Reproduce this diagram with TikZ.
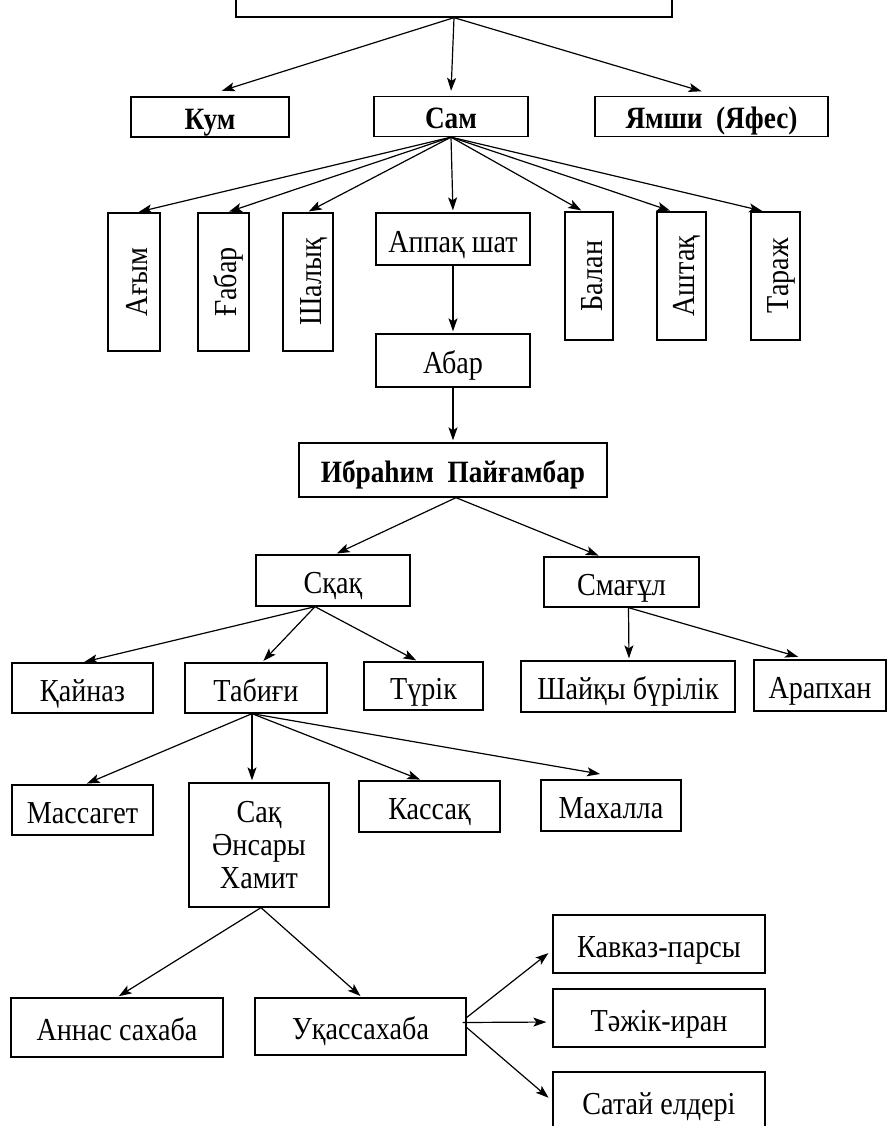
\documentclass[tikz,border=0pt]{standalone}
\usepackage{fontspec}
\setmainfont{Liberation Serif}[FakeStretch=0.88]
\usetikzlibrary{positioning,arrows.meta}

\begin{document}
\begin{tikzpicture}[
    x=1pt, y=-1pt,
    >={Stealth[length=13pt,width=9pt,inset=3pt]},
    clan/.style={
        draw,
        line width=1.3pt,
        inner sep=0pt,
        align=center,
        font=\fontsize{32}{33}\selectfont,
        text height=26pt,
        text depth=0pt,
        minimum height=51pt
    },
    headclan/.style={
        clan,
        font=\fontsize{31}{33}\selectfont\bfseries,
        text height=25pt,
        text depth=0pt,
        minimum height=40pt
    },
    vclan/.style={
        clan,
        rotate=90,
        minimum height=50pt
    },
    arrow/.style={->, line width=1.2pt, shorten >=2pt}
]

\useasboundingbox (0,0) rectangle (887,1126);
\clip (0,0) rectangle (887,1126);

\node[clan, minimum width=436pt, minimum height=58pt] (top) at (454,-12) {};

% SONS
\node[headclan, minimum width=158pt] (kum) at (210,117) {Кум};
\node[headclan, minimum width=154pt] (sam) at (451,116.5) {Сам};
\node[headclan, minimum width=233pt] (yafes) at (711.5,116.5) {Ямши~ (Яфес)};

\draw[arrow] (top.south) -- ([xshift=10pt,yshift=5pt]kum.north);
\draw[arrow] (top.south) -- ([yshift=3pt]sam.north);
\draw[arrow] (top.south) -- ([xshift=-8pt,yshift=4pt]yafes.north);

% SAM
\node[vclan, minimum width=138pt, minimum height=52pt] (agym) at (134,282) {Ағым};
\node[vclan, minimum width=138pt, minimum height=51pt] (gabar) at (223.5,282) {Ғабар};
\node[vclan, minimum width=138pt] (shalyq) at (308,282) {Шалық};
\node[clan, minimum width=154pt, minimum height=52pt] (appaq) at (453,239) {Аппақ шат};
\node[vclan, minimum width=128pt, minimum height=48pt] (balan) at (589,276) {Балан};
\node[vclan, minimum width=128pt, minimum height=49pt] (ashtaq) at (681.5,276) {Аштақ};
\node[vclan, minimum width=128pt, minimum height=49pt] (tarazh) at (775.5,276) {Тараж};

\draw[arrow] (sam.south) -- ([xshift=3pt]agym.east);
\draw[arrow] (sam.south) -- ([xshift=3.5pt]gabar.east);
\draw[arrow] (sam.south) -- ([xshift=-1pt]shalyq.east);
\draw[arrow] (sam.south) -- (appaq.north);
\draw[arrow] (sam.south) -- ([xshift=-6pt]balan.east);
\draw[arrow] (sam.south) -- ([xshift=-9.5pt]ashtaq.east);
\draw[arrow] (sam.south) -- ([xshift=-11.5pt]tarazh.east);

% ABAR, IBRAHIM
\node[clan, minimum width=154pt, minimum height=53pt] (abar) at (453,360.5) {Абар};
\node[headclan, minimum width=308pt, minimum height=54pt] (ibrahim) at (453,470) {Ибраһим~ Пайғамбар};

\draw[arrow] (appaq.south) -- (abar.north);
\draw[arrow] (abar.south) -- (ibrahim.north);

% SKAQ, SMAGUL
\node[clan, minimum width=154pt] (skaq) at (333,580.5) {Сқақ};
\node[clan, minimum width=155pt, minimum height=50pt] (smagul) at (621.5,582) {Смағұл};

\draw[arrow] ([xshift=3pt]ibrahim.south) -- ([xshift=2pt]skaq.north);
\draw[arrow] ([xshift=3pt]ibrahim.south) -- ([xshift=-21pt]smagul.north);

\node[clan, minimum width=141pt, minimum height=50pt] (qainaz) at (82.5,688) {Қайназ};
\node[clan, minimum width=142pt, minimum height=50pt] (tabigi) at (256,688) {Табиғи};
\node[clan, minimum width=119pt, minimum height=48pt] (turik) at (423.5,686) {Түрік};
\node[clan, minimum width=214pt] (shaiqy) at (628,686.5) {Шайқы бүрілік};
\node[clan, minimum width=132pt] (araphan) at (820,685.5) {Арапхан};

\draw[arrow] ([xshift=-18pt]skaq.south) -- (qainaz.north);
\draw[arrow] ([xshift=-18pt]skaq.south) -- ([xshift=6pt]tabigi.north);
\draw[arrow] ([xshift=-18pt]skaq.south) -- ([xshift=-5.5pt]turik.north);
\draw[arrow] ([xshift=7pt]smagul.south) -- ([xshift=1pt]shaiqy.north);
\draw[arrow] ([xshift=7pt]smagul.south) -- ([xshift=-20pt,yshift=2pt]araphan.north);

% TABIGI
\node[clan, minimum width=141pt, minimum height=50pt] (massaget) at (82.5,810) {Массагет};
\node[clan, text height={}, text depth=-3pt, minimum width=140pt, minimum height=124pt] (saq) at (259,845) {Сақ\\Әнсары\\Хамит};
\node[clan, minimum width=141pt] (kassaq) at (429.5,806.5) {Кассақ};
\node[clan, minimum width=140pt] (mahalla) at (611,805.5) {Махалла};

\draw[arrow] ([xshift=-4pt]tabigi.south) -- ([xshift=2.5pt]massaget.north);
\draw[arrow] ([xshift=-4pt]tabigi.south) -- ([xshift=-7pt]saq.north);
\draw[arrow] ([xshift=-4pt]tabigi.south) -- ([xshift=-7.5pt]kassaq.north);
\draw[arrow] ([xshift=-4pt]tabigi.south) -- ([xshift=-9pt,yshift=5pt]mahalla.north);

% SAQ
\node[clan, minimum width=212pt, minimum height=59pt] (annas) at (117,1027.5) {Аннас сахаба};
\node[clan, minimum width=211pt, minimum height=57pt] (uqas) at (360.5,1026.5) {Уқассахаба};

\draw[arrow] ([xshift=2pt]saq.south) -- (annas.north);
\draw[arrow] ([xshift=2pt]saq.south) -- ([xshift=1.5pt]uqas.north);

\node[clan, minimum width=212pt, minimum height=58pt] (kavkaz) at (659,944) {Кавказ-парсы};
\node[clan, minimum width=212pt, minimum height=58pt] (tazhik) at (659,1018) {Тәжік-иран};
\node[clan, minimum width=212pt, minimum height=58pt] (satai) at (659,1101) {Сатай елдері};

\draw[arrow, shorten >=5pt] ([yshift=9pt]uqas.east) -- ([yshift=-6pt]kavkaz.west);
\draw[arrow, shorten >=6pt] ([xshift=-4pt,yshift=4pt]uqas.east) -- ([yshift=-4pt]tazhik.west);
\draw[arrow, shorten >=5pt] ([yshift=-1pt]uqas.east) -- (satai.west);

\end{tikzpicture}
\end{document}
